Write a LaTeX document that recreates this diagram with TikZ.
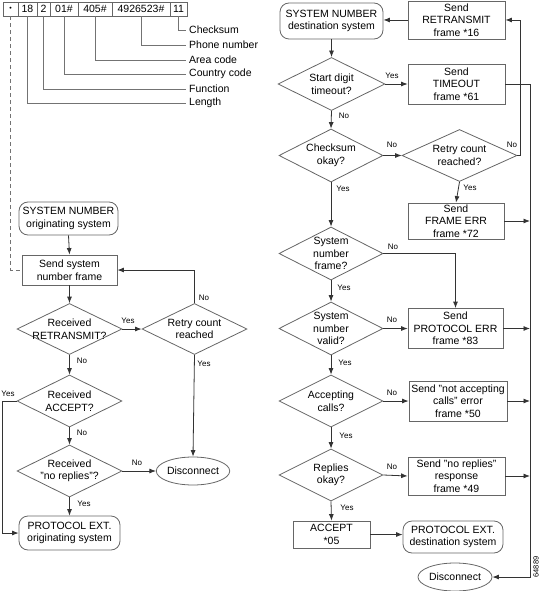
\documentclass[tikz,border=0pt]{standalone}
\usepackage{fontspec}
\setmainfont{Liberation Sans}
\usetikzlibrary{shapes.geometric,arrows.meta,calc}
\begin{document}
\begin{tikzpicture}[x=1pt,y=-1pt,
  every node/.style={font=\fontsize{10.5}{12.5}\selectfont, align=center},
  box/.style={draw=black!60, line width=0.8pt, rectangle, inner sep=1pt},
  rbox/.style={box, rounded corners=9pt},
  dia/.style={draw=black!60, line width=0.8pt, diamond, inner sep=0pt},
  ell/.style={draw=black!60, line width=0.8pt, ellipse, inner sep=0pt},
  conn/.style={draw=black!80, line width=0.8pt},
  lead/.style={draw=black!55, line width=0.8pt},
  arr/.style={conn, -{Latex[length=6.5pt,width=5pt]}},
  lab/.style={font=\fontsize{8}{9}\selectfont, inner sep=0pt},
  cell/.style={draw=black!60, line width=0.8pt, minimum height=14pt, inner sep=0pt},
  fld/.style={anchor=west, inner sep=3pt},
]
\useasboundingbox (0,0) rectangle (541,591);

% ---------- frame layout ----------
\node[cell, minimum width=15pt] (c0) at (10.5,9) {\fontsize{7}{8}\selectfont •};
\node[cell, minimum width=19pt] (c1) at (27.5,9) {18};
\node[cell, minimum width=13pt] (c2) at (43.5,9) {2};
\node[cell, minimum width=28pt] (c3) at (64,9) {01\#};
\node[cell, minimum width=34pt] (c4) at (95,9) {405\#};
\node[cell, minimum width=58pt] (c5) at (141,9) {4926523\#};
\node[cell, minimum width=17pt] (c6) at (178.5,9) {11};

\node[fld] (fCk) at (186,30) {Checksum};
\node[fld] (fPh) at (186,45) {Phone number};
\node[fld] (fAr) at (186,60) {Area code};
\node[fld] (fCo) at (186,74) {Country code};
\node[fld] (fFu) at (186,89) {Function};
\node[fld] (fLe) at (186,103) {Length};

\draw[lead] (c6.south) |- (fCk.west);
\draw[lead] (c5.south) |- (fPh.west);
\draw[lead] (c4.south) |- (fAr.west);
\draw[lead] (c3.south) |- (fCo.west);
\draw[lead] (c2.south) |- (fFu.west);
\draw[lead] (c1.south) |- (fLe.west);

% ---------- left flowchart ----------
\node[rbox, minimum width=99pt, minimum height=33pt] (sysO) at (68.5,218.5) {SYSTEM NUMBER\\originating system};
\node[box, minimum width=95pt, minimum height=30pt] (send) at (69.5,270) {Send system\\number frame};
\node[dia, minimum width=105pt, minimum height=51pt, label={center:Received\\RETRANSMIT?}] (dRet) at (69.5,329) {};
\node[dia, minimum width=105pt, minimum height=51pt, label={center:Retry count\\reached}] (dRetry) at (194.5,329) {};
\node[dia, minimum width=105pt, minimum height=52pt, label={center:Received\\ACCEPT?}] (dAcc) at (69.5,401) {};
\node[dia, minimum width=105pt, minimum height=52pt, label={center:Received\\"no replies"?}] (dNo) at (69.5,471) {};
\node[ell, minimum width=68pt, minimum height=28pt] (discL) at (193,471) {Disconnect};
\node[rbox, minimum width=101pt, minimum height=34pt] (protO) at (69.5,533) {PROTOCOL EXT.\\originating system};
\coordinate (cL) at (2,401);

\draw[lead, dashed, dash pattern=on 4pt off 3pt] (c0.south) |- (send.west);

\draw[arr] (sysO.south) -- (send.north);
\draw[arr] (send.south) -- (dRet.north);
\draw[arr] (dRet.east) -- (dRetry.west);
\draw[arr] (dRetry.north) |- (send.east);
\draw[arr] (dRetry.south) -- (discL.north);
\draw[arr] (dRet.south) -- (dAcc.north);
\draw[arr] (dAcc.west) -- (cL) |- (protO.west);
\draw[arr] (dAcc.south) -- (dNo.north);
\draw[arr] (dNo.east) -- (discL.west);
\draw[arr] (dNo.south) -- (protO.north);

\node[lab] (lY1) at (128,321) {Yes};
\node[lab] (lN1) at (204,298) {No};
\node[lab] (lY2) at (204,364) {Yes};
\node[lab] (lN2) at (82,361) {No};
\node[lab] (lY3) at (8,394) {Yes};
\node[lab] (lN3) at (82,433) {No};
\node[lab] (lN4) at (137,463) {No};
\node[lab] (lY4) at (84,504) {Yes};

% ---------- right flowchart ----------
\node[rbox, minimum width=103pt, minimum height=36pt] (sysD) at (331.5,21) {SYSTEM NUMBER\\destination system};
\node[box, minimum width=97pt, minimum height=38pt] (retx) at (456.5,20) {Send\\RETRANSMIT\\frame *16};
\node[dia, minimum width=107pt, minimum height=53pt, label={center:Start digit\\timeout?}] (dStart) at (331.5,84) {};
\node[box, minimum width=97pt, minimum height=40pt] (tout) at (456.5,84) {Send\\TIMEOUT\\frame *61};
\node[dia, minimum width=104pt, minimum height=53pt, label={center:Checksum\\okay?}] (dCk) at (331,155.5) {};
\node[dia, minimum width=115pt, minimum height=52pt, label={center:Retry count\\reached?}] (dRetry2) at (459.5,155.5) {};
\node[box, minimum width=96pt, minimum height=36pt] (ferr) at (456,221) {Send\\FRAME ERR\\frame *72};
\node[dia, minimum width=104pt, minimum height=53pt, label={center:System\\number\\frame?}] (dFrame) at (331,253.5) {};
\node[dia, minimum width=104pt, minimum height=53pt, label={center:System\\number\\valid?}] (dValid) at (331,328.5) {};
\node[box, minimum width=95pt, minimum height=40pt] (perr) at (455.5,328.5) {Send\\PROTOCOL ERR\\frame *83};
\node[dia, minimum width=104pt, minimum height=52pt, label={center:Accepting\\calls?}] (dAccept) at (331,401) {};
\node[box, minimum width=98pt, minimum height=40pt] (nacc) at (458,401) {Send "not accepting\\calls" error\\frame *50};
\node[dia, minimum width=104pt, minimum height=52pt, label={center:Replies\\okay?}] (dRep) at (331,475) {};
\node[box, minimum width=97pt, minimum height=38pt] (nrep) at (456.5,476) {Send "no replies"\\response\\frame *49};
\node[box, minimum width=77pt, minimum height=27pt] (acc) at (331.5,534.5) {ACCEPT\\*05};
\node[rbox, minimum width=100pt, minimum height=32pt] (protD) at (453,537) {PROTOCOL EXT.\\destination system};
\node[ell, minimum width=74pt, minimum height=28pt] (discR) at (455,577) {Disconnect};

\coordinate (busA) at (520,155.5);
\coordinate (busB) at (530,84);

\draw[arr] (retx.west) -- (sysD.east |- retx.west);
\draw[arr] (sysD.south) -- (dStart.north);
\draw[arr] (dStart.east) -- (tout.west);
\draw[arr] (dStart.south) -- (dCk.north);
\draw[arr] (tout.east) -- (busB) |- (discR.east);
\draw[arr] (dCk.east) -- (dRetry2.west);
\draw[arr] (dRetry2.east) -- (busA) |- (retx.east);
\draw[arr] (dRetry2.south) -- (ferr.north);
\draw[arr] (ferr.east) -- (ferr.east -| busB);
\draw[arr] (dCk.south) -- (dFrame.north);
\draw[arr] (dFrame.east) -| (perr.north);
\draw[arr] (dFrame.south) -- (dValid.north);
\draw[arr] (dValid.east) -- (perr.west);
\draw[arr] (perr.east) -- (perr.east -| busB);
\draw[arr] (dValid.south) -- (dAccept.north);
\draw[arr] (dAccept.east) -- (nacc.west);
\draw[arr] (nacc.east) -- (nacc.east -| busB);
\draw[arr] (dAccept.south) -- (dRep.north);
\draw[arr] (dRep.east) -- (nrep.west);
\draw[arr] (nrep.east) -- (nrep.east -| busB);
\draw[arr] (dRep.south) -- (acc.north);
\draw[arr] (acc.east) -- (acc.east -| protD.west);

\node[lab] (rY1) at (392,76) {Yes};
\node[lab] (rN1) at (344,116) {No};
\node[lab] (rN2) at (392,145) {No};
\node[lab] (rN3) at (512,145) {No};
\node[lab] (rY2) at (470,188) {Yes};
\node[lab] (rY3) at (343,189) {Yes};
\node[lab] (rN4) at (393,247) {No};
\node[lab] (rY4) at (344,288) {Yes};
\node[lab] (rN5) at (392,320) {No};
\node[lab] (rY5) at (345,363) {Yes};
\node[lab] (rN6) at (392,393) {No};
\node[lab] (rY6) at (346,436) {Yes};
\node[lab] (rN7) at (392,467) {No};
\node[lab] (rY7) at (347,508) {Yes};

\node[font=\fontsize{7.5}{8}\selectfont, rotate=90, inner sep=0pt] (fig) at (536,567) {64889};
\end{tikzpicture}
\end{document}
